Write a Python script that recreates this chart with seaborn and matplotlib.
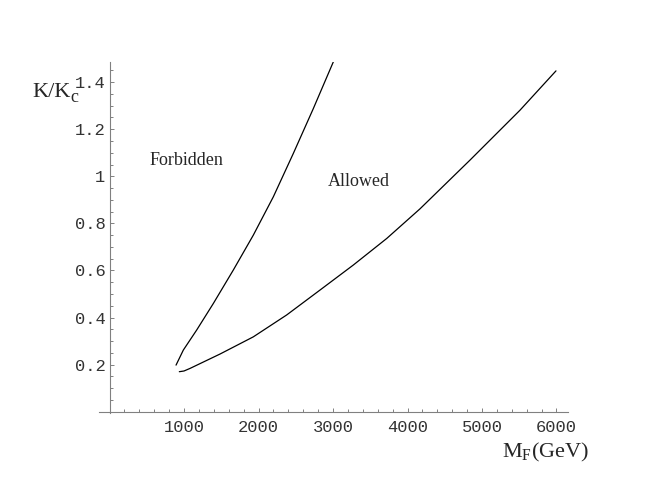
import numpy as np
import pandas as pd
import matplotlib.pyplot as plt
import seaborn as sns
from matplotlib.ticker import FixedLocator, MultipleLocator

# Boundary curves (M_F in GeV, K/K_c)
m_left = [893, 991, 1170, 1394, 1662, 1930, 2199, 2467, 2736, 3004]
k_left = [0.198, 0.262, 0.347, 0.460, 0.602, 0.750, 0.913, 1.097, 1.288, 1.486]

m_right = [937, 1000, 1081, 1483, 1930, 2378, 2826, 3272, 3721, 4168, 4839, 5510, 5993]
k_right = [0.170, 0.173, 0.184, 0.245, 0.318, 0.411, 0.517, 0.623, 0.736, 0.862, 1.069, 1.281, 1.448]

x_ticks = [1000, 2000, 3000, 4000, 5000, 6000]
x_tick_labels = ["1000", "2000", "3000", "4000", "5000", "6000"]
y_ticks = [0.2, 0.4, 0.6, 0.8, 1.0, 1.2, 1.4]
y_tick_labels = ["0.2", "0.4", "0.6", "0.8", "1", "1.2", "1.4"]

df_left = pd.DataFrame({"M": m_left, "K": k_left})
df_right = pd.DataFrame({"M": m_right, "K": k_right})

sns.set_style("white")
plt.rcParams["font.family"] = ["Liberation Serif", "DejaVu Serif"]
plt.rcParams["mathtext.fontset"] = "custom"
plt.rcParams["mathtext.rm"] = "Liberation Serif"
plt.rcParams["mathtext.it"] = "Liberation Serif:italic"

fig = plt.figure(figsize=(6.54, 4.98), dpi=100)
ax = fig.add_axes([0.1515, 0.1709, 0.7165, 0.7052])

sns.lineplot(data=df_left, x="M", y="K", sort=False, color="black", lw=0.9, ax=ax)
sns.lineplot(data=df_right, x="M", y="K", sort=False, color="black", lw=0.9, ax=ax)

ax.set_xlim(-140, 6150)
ax.set_ylim(-0.005, 1.487)
ax.set_xlabel("")
ax.set_ylabel("")

# Mathematica-style axes crossing at the origin
for side in ["top", "right"]:
    ax.spines[side].set_visible(False)
for side in ["left", "bottom"]:
    ax.spines[side].set_position(("data", 0))
    ax.spines[side].set_color("#808080")
    ax.spines[side].set_linewidth(0.8)

ax.xaxis.set_major_locator(FixedLocator(x_ticks))
ax.xaxis.set_minor_locator(MultipleLocator(200))
ax.yaxis.set_major_locator(FixedLocator(y_ticks))
ax.yaxis.set_minor_locator(MultipleLocator(0.05))
ax.set_xticklabels(x_tick_labels, fontfamily="Liberation Mono")
ax.set_yticklabels(y_tick_labels, fontfamily="Liberation Mono")

ax.tick_params(which="both", bottom=True, left=True, direction="in",
               color="#808080", width=0.7, labelsize=12.3, labelcolor="#333333")
ax.tick_params(which="major", length=3.2)
ax.tick_params(which="minor", length=1.9)
ax.tick_params(axis="x", pad=6)
ax.tick_params(axis="y", pad=3)

ax.text(1027, 1.068, "Forbidden", fontsize=13, ha="center", va="center")
ax.text(3349, 0.98, "Allowed", fontsize=13, ha="center", va="center")

# axis titles placed like Mathematica's AxesLabel
fig.text(0.049, 0.815, "K/K", fontsize=16, ha="left", va="center")
fig.text(0.108, 0.805, "c", fontsize=13, ha="left", va="center")
fig.text(0.7676, 0.0924, r"M$_{\rm F}$(GeV)", fontsize=16, ha="left", va="center")

fig.savefig("out.png", dpi=100)
